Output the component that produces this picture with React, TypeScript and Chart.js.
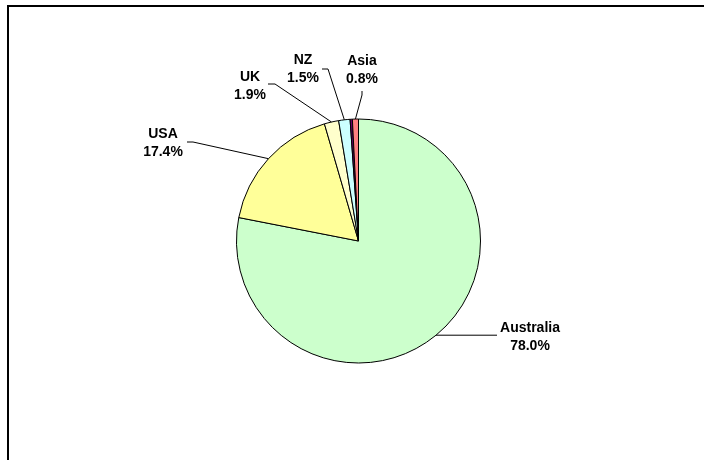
import React, { useEffect, useRef } from "react";
import { Chart, registerables } from "chart.js";

Chart.register(...registerables);

const categories = ["Australia", "USA", "UK", "NZ", "Other", "Asia"];
const values = [78.0, 17.4, 1.9, 1.5, 0.3, 0.8];
const showLabel = [true, true, true, true, false, true];
const colors = ["#CCFFCC", "#FFFF99", "#FFFFCC", "#CCFFFF", "#660066", "#FF8080"];

// label placement relative to pie centre: text block centre, leader elbow, leader end
const labelText = [
  [171.5, 96],
  [-195.5, -98],
  [-108.5, -154.5],
  [-55.5, -171.5],
  [0, 0],
  [3.5, -170.5],
];
const leaderElbow = [
  null,
  [-165.5, -99],
  [-83.5, -157],
  [-30.5, -172],
  null,
  [3.5, -146],
];
const leaderEnd = [
  [138.5, null],
  [-171.5, -99],
  [-90.5, -157],
  [-36.5, -172],
  null,
  [3.5, -150],
];

const labelsPlugin = {
  id: "pieLabels",
  afterDraw(chart: any) {
    const ctx = chart.ctx;
    ctx.save();
    // outer frame (top and left edges visible)
    ctx.fillStyle = "#000";
    ctx.fillRect(7, 5, 704, 2);
    ctx.fillRect(7, 5, 2, 460);

    const meta = chart.getDatasetMeta(0);
    ctx.font = "bold 14px Arial, 'Liberation Sans', sans-serif";
    ctx.textAlign = "center";
    ctx.textBaseline = "middle";
    ctx.strokeStyle = "#000";
    ctx.lineWidth = 1;
    meta.data.forEach((arc: any, i: number) => {
      if (!showLabel[i]) return;
      const cx = arc.x;
      const cy = arc.y;
      const mid = (arc.startAngle + arc.endAngle) / 2;
      const ex = cx + Math.cos(mid) * arc.outerRadius;
      const ey = cy + Math.sin(mid) * arc.outerRadius;
      ctx.beginPath();
      ctx.moveTo(ex, ey);
      const el = leaderElbow[i];
      if (el) ctx.lineTo(cx + el[0], cy + el[1]);
      const en = leaderEnd[i];
      if (en) {
        const endY = en[1] === null ? ey : cy + (en[1] as number);
        ctx.lineTo(cx + (en[0] as number), endY);
      }
      ctx.stroke();
      const tx = cx + labelText[i][0];
      const ty = cy + labelText[i][1];
      ctx.fillStyle = "#000";
      ctx.fillText(categories[i], tx, ty - 9);
      ctx.fillText(values[i].toFixed(1) + "%", tx, ty + 9);
    });
    ctx.restore();
  },
};

export default function App() {
  const ref = useRef<HTMLCanvasElement>(null);
  useEffect(() => {
    document.body.style.margin = "0";
    const chart = new Chart(ref.current!, {
      type: "pie",
      data: {
        labels: categories,
        datasets: [
          {
            data: values,
            backgroundColor: colors,
            borderColor: "#000",
            borderWidth: 1,
          },
        ],
      },
      options: {
        animation: false,
        responsive: false,
        layout: { padding: { left: 236, right: 223, top: 118.5, bottom: 96.5 } },
        plugins: {
          legend: { display: false },
          tooltip: { enabled: false },
        },
      },
      plugins: [labelsPlugin],
    });
    return () => chart.destroy();
  }, []);
  return (
    <div style={{ width: 704, height: 460, background: "#fff" }}>
      <canvas ref={ref} width={704} height={460} style={{ display: "block" }} />
    </div>
  );
}
